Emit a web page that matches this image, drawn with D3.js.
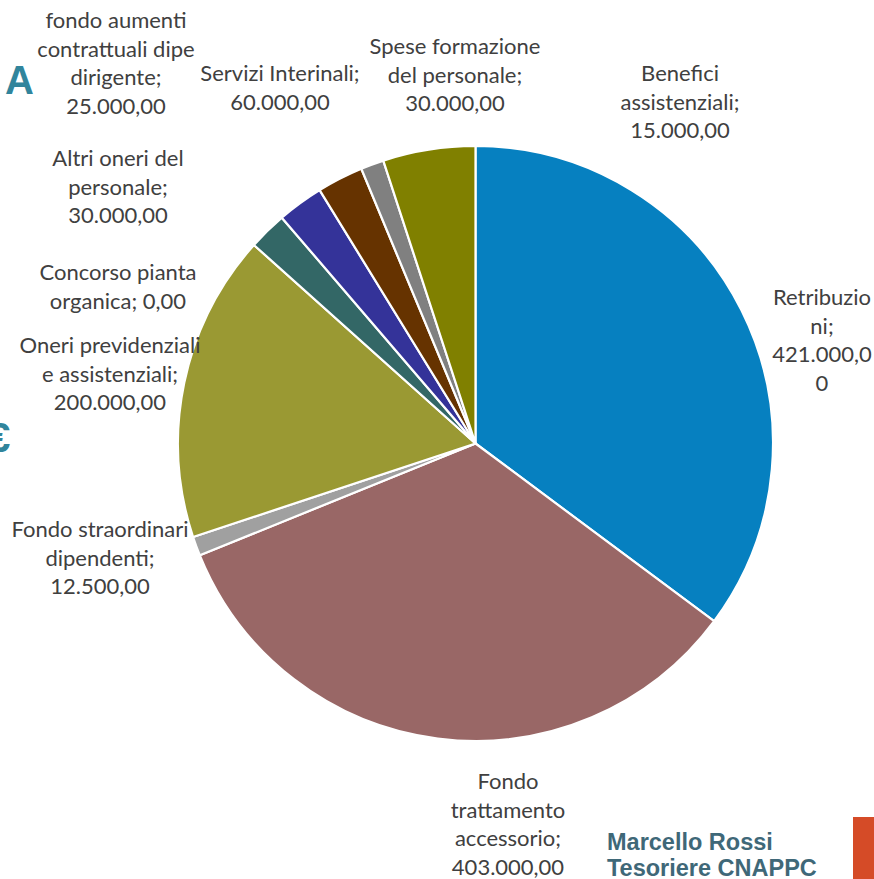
<!DOCTYPE html>
<html>
<head>
<meta charset="utf-8">
<script src="https://cdn.jsdelivr.net/npm/d3@7"></script>
<style>
  html, body { margin: 0; padding: 0; background: #fff; overflow: hidden; }
  svg { display: block; }
</style>
</head>
<body>
<svg id="chart" width="874" height="879"></svg>
<script>
// ---- data ----
const categories = [
  "Retribuzioni",
  "Fondo trattamento accessorio",
  "Fondo straordinari dipendenti",
  "Oneri previdenziali e assistenziali",
  "Concorso pianta organica",
  "fondo aumenti contrattuali dipe dirigente",
  "Altri oneri del personale",
  "Spese formazione del personale",
  "Benefici assistenziali",
  "Servizi Interinali"
];
const values = [421000, 403000, 12500, 200000, 0, 25000, 30000, 30000, 15000, 60000];
const labelLines = [
  ["Retribuzio", "ni;", "421.000,0", "0"],
  ["Fondo", "trattamento", "accessorio;", "403.000,00"],
  ["Fondo straordinari", "dipendenti;", "12.500,00"],
  ["Oneri previdenziali", "e assistenziali;", "200.000,00"],
  ["Concorso pianta", "organica; 0,00"],
  ["fondo aumenti", "contrattuali dipe", "dirigente;", "25.000,00"],
  ["Altri oneri del", "personale;", "30.000,00"],
  ["Spese formazione", "del personale;", "30.000,00"],
  ["Benefici", "assistenziali;", "15.000,00"],
  ["Servizi Interinali;", "60.000,00"]
];
const colors = ["#0680C0", "#996766", "#A0A0A0", "#9A9933", "#7F7F7F", "#336766", "#343399", "#663300", "#808080", "#808000"];

// ---- layout (label anchor = center of first line) ----
const labelAnchors = [
  [822, 296], [508, 780], [100, 528], [110, 344], [118, 271],
  [116, 19], [118, 157], [455, 45], [680, 72], [280, 72]
];

const W = 874, H = 879;
const cx = 475.5, cy = 443.5, R = 297.5;
const svg = d3.select("#chart");

const pie = d3.pie().sort(null).value(d => d.value).startAngle(0).endAngle(2 * Math.PI);
const arc = d3.arc().innerRadius(0).outerRadius(R);
const data = categories.map((c, i) => ({ cat: c, value: values[i], color: colors[i], lines: labelLines[i], anchor: labelAnchors[i] }));

const g = svg.append("g").attr("transform", `translate(${cx},${cy})`);
g.selectAll("path.slice")
  .data(pie(data).filter(d => d.data.value > 0))
  .join("path")
  .attr("class", "slice")
  .attr("d", arc)
  .attr("fill", d => d.data.color)
  .attr("stroke", "#ffffff")
  .attr("stroke-width", 2.2)
  .attr("stroke-linejoin", "round");

// labels
const lineH = 28.6;
const lbl = svg.append("g").attr("class", "labels")
  .attr("font-family", "Lato, 'Open Sans', sans-serif")
  .attr("font-size", 22)
  .attr("fill", "#404040")
  .attr("text-anchor", "middle");
data.forEach(d => {
  const t = lbl.append("text")
    .attr("x", d.anchor[0]).attr("y", d.anchor[1])
    .attr("dominant-baseline", "central");
  d.lines.forEach((ln, j) => {
    t.append("tspan").attr("x", d.anchor[0]).attr("y", d.anchor[1] + j * lineH).text(ln);
  });
});

// background slide decorations
svg.append("text").attr("x", 5).attr("y", 94)
  .attr("font-family", "'Liberation Sans', Arial, sans-serif")
  .attr("font-weight", "bold").attr("font-size", 40).attr("fill", "#31859C").text("A");
svg.append("text").attr("x", -13).attr("y", 452)
  .attr("font-family", "'Liberation Sans', Arial, sans-serif")
  .attr("font-weight", "bold").attr("font-size", 42).attr("fill", "#31859C").text("€");

const sig = svg.append("g")
  .attr("font-family", "'Liberation Sans', Arial, sans-serif")
  .attr("font-weight", "bold").attr("font-size", 23.5).attr("fill", "#3F6878");
sig.append("text").attr("x", 607).attr("y", 850).text("Marcello Rossi");
sig.append("text").attr("x", 607).attr("y", 876).text("Tesoriere CNAPPC");

svg.append("rect").attr("x", 853).attr("y", 817).attr("width", 21).attr("height", 62).attr("fill", "#D54B27");
</script>
</body>
</html>
